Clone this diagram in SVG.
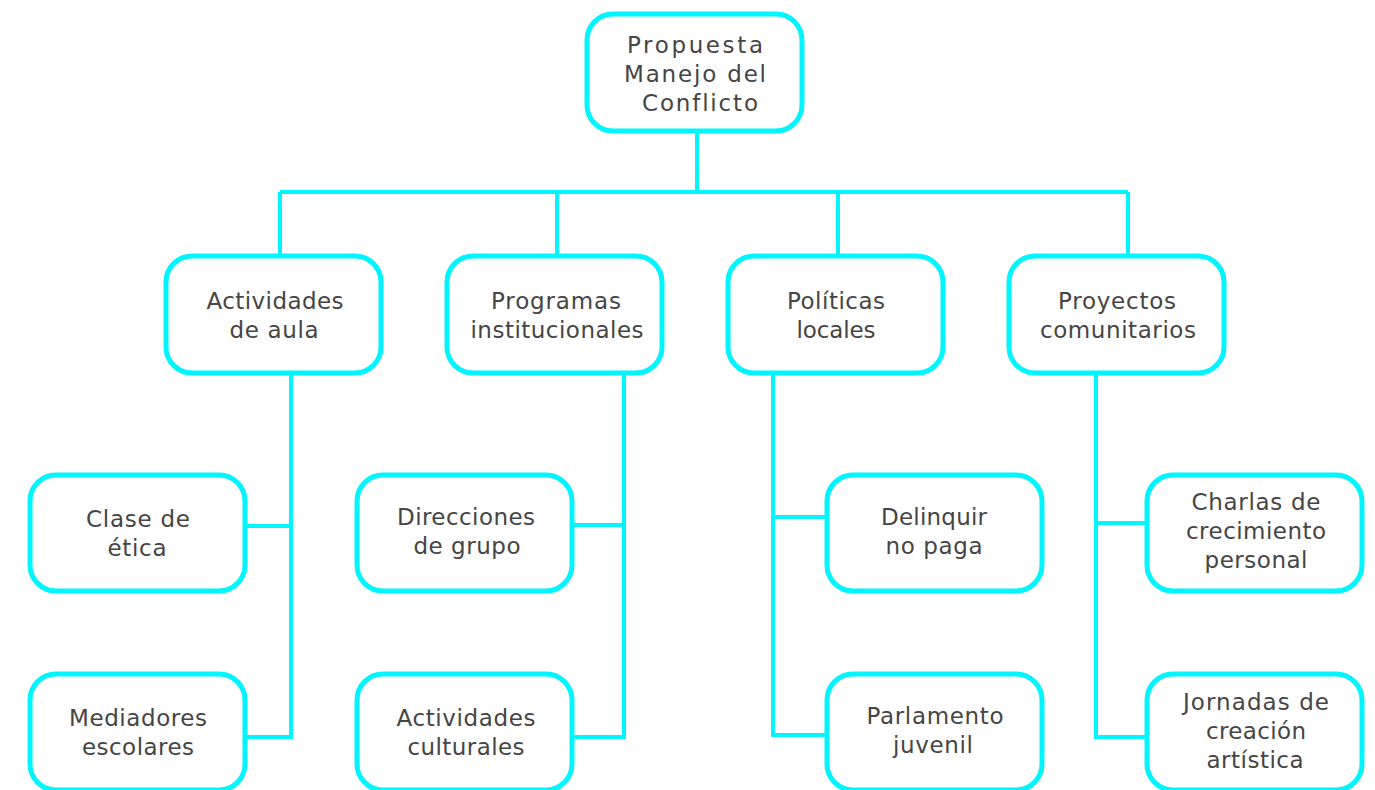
<svg xmlns="http://www.w3.org/2000/svg" width="1375" height="790" viewBox="0 0 1375 790">
<style>
.box{fill:#fff;stroke:#00f5ff;stroke-width:5}
.ln{fill:none;stroke:#00f5ff;stroke-width:4}
text{font-family:"DejaVu Sans",Verdana,sans-serif;font-size:23px;fill:#454545;text-anchor:middle;font-variant-ligatures:none}
</style>
<rect width="1375" height="790" fill="#fff"/>
<g id="connectors">
<path class="ln" d="M697 131V192M280 192H1128M280 192V256M557 192V256M838 192V256M1128 192V256"/>
<path class="ln" d="M291 373V737H245M291 526H245"/>
<path class="ln" d="M624 373V737H572M624 525H572"/>
<path class="ln" d="M773 373V735H827M773 517H827"/>
<path class="ln" d="M1096 373V737H1147M1096 523H1147"/>
</g>
<g id="root"><rect class="box" x="587" y="14" width="215" height="117" rx="26"/>
<text x="695" y="53" textLength="136" lengthAdjust="spacing">Propuesta</text><text x="695" y="82" textLength="142" lengthAdjust="spacing">Manejo del</text><text x="700" y="111" textLength="116" lengthAdjust="spacing">Conflicto</text></g>
<g id="actividades-aula"><rect class="box" x="166" y="256" width="215" height="117" rx="26"/>
<text x="275" y="309" textLength="137" lengthAdjust="spacing">Actividades</text><text x="274" y="338" textLength="89" lengthAdjust="spacing">de aula</text></g>
<g id="programas"><rect class="box" x="447" y="256" width="215" height="117" rx="26"/>
<text x="556" y="309" textLength="130" lengthAdjust="spacing">Programas</text><text x="557" y="338" textLength="173" lengthAdjust="spacing">institucionales</text></g>
<g id="politicas"><rect class="box" x="728" y="256" width="215" height="117" rx="26"/>
<text x="836" y="309" textLength="98" lengthAdjust="spacing">Políticas</text><text x="836" y="338" textLength="79" lengthAdjust="spacing">locales</text></g>
<g id="proyectos"><rect class="box" x="1009" y="256" width="215" height="117" rx="26"/>
<text x="1117" y="309" textLength="118" lengthAdjust="spacing">Proyectos</text><text x="1118" y="338" textLength="156" lengthAdjust="spacing">comunitarios</text></g>
<g id="clase-etica"><rect class="box" x="30" y="475" width="215" height="116" rx="26"/>
<text x="138" y="527" textLength="104" lengthAdjust="spacing">Clase de</text><text x="137" y="556" textLength="59" lengthAdjust="spacing">ética</text></g>
<g id="mediadores"><rect class="box" x="30" y="674" width="215" height="116" rx="26"/>
<text x="138" y="726" textLength="138" lengthAdjust="spacing">Mediadores</text><text x="138" y="755" textLength="112" lengthAdjust="spacing">escolares</text></g>
<g id="direcciones"><rect class="box" x="357" y="475" width="215" height="116" rx="26"/>
<text x="466" y="525" textLength="138" lengthAdjust="spacing">Direcciones</text><text x="467" y="554" textLength="107" lengthAdjust="spacing">de grupo</text></g>
<g id="actividades-culturales"><rect class="box" x="357" y="674" width="215" height="116" rx="26"/>
<text x="466" y="726" textLength="139" lengthAdjust="spacing">Actividades</text><text x="466" y="755" textLength="117" lengthAdjust="spacing">culturales</text></g>
<g id="delinquir"><rect class="box" x="827" y="475" width="215" height="116" rx="26"/>
<text x="934" y="525" textLength="106" lengthAdjust="spacing">Delinquir</text><text x="934" y="554" textLength="97" lengthAdjust="spacing">no paga</text></g>
<g id="parlamento"><rect class="box" x="827" y="674" width="215" height="116" rx="26"/>
<text x="935" y="724" textLength="137" lengthAdjust="spacing">Parlamento</text><text x="933" y="753" textLength="80" lengthAdjust="spacing">juvenil</text></g>
<g id="charlas"><rect class="box" x="1147" y="475" width="215" height="116" rx="26"/>
<text x="1256" y="510" textLength="129" lengthAdjust="spacing">Charlas de</text><text x="1256" y="539" textLength="140" lengthAdjust="spacing">crecimiento</text><text x="1256" y="568" textLength="103" lengthAdjust="spacing">personal</text></g>
<g id="jornadas"><rect class="box" x="1147" y="674" width="215" height="116" rx="26"/>
<text x="1256" y="710" textLength="146" lengthAdjust="spacing">Jornadas de</text><text x="1256" y="739" textLength="100" lengthAdjust="spacing">creación</text><text x="1255" y="768" textLength="97" lengthAdjust="spacing">artística</text></g>
</svg>
